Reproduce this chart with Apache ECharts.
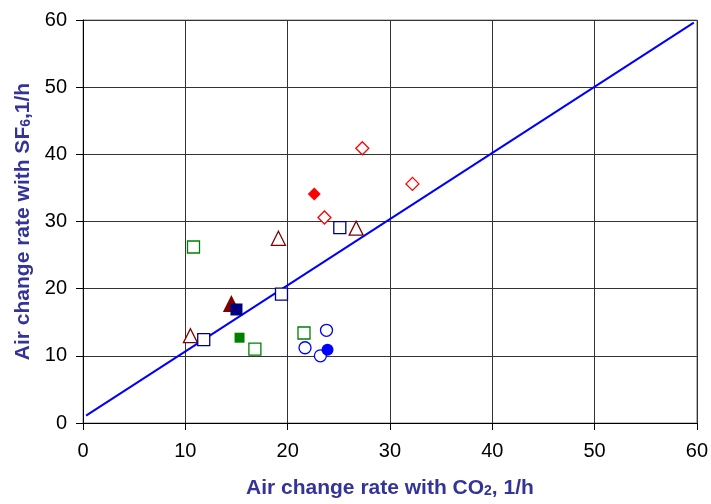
<!DOCTYPE html>
<html>
<head>
<meta charset="utf-8">
<script src="https://cdn.jsdelivr.net/npm/echarts@6/dist/echarts.min.js"></script>
<style>html,body{margin:0;padding:0;background:#fff}#c{width:711px;height:504px}</style>
</head>
<body>
<div id="c"></div>
<script>
// Data (x = CO2 air change rate, y = SF6 air change rate)
const redOpenDiamonds = [[27.3, 40.9], [32.2, 35.6], [23.6, 30.6]];
const redFilledDiamonds = [[22.6, 34.1]];
const brownOpenTriangles = [[19.1, 27.5], [26.7, 29.0], [10.5, 13.0]];
const brownFilledTriangles = [[14.5, 17.8]];
const navyOpenSquares = [[25.1, 29.1], [19.4, 19.2], [11.8, 12.4]];
const navyFilledSquares = [[15.0, 16.9]];
const greenOpenSquares = [[10.8, 26.2], [21.6, 13.4], [16.8, 11.0]];
const greenFilledSquares = [[15.3, 12.7]];
const blueOpenCircles = [[23.8, 13.8], [21.7, 11.2], [23.2, 10.0]];
const blueFilledCircles = [[23.9, 10.9]];
const refLine = [[0.3, 1.1], [59.7, 59.6]];
const axisTicks = [0, 10, 20, 30, 40, 50, 60];

const chart = echarts.init(document.getElementById('c'));
const font = 'Liberation Sans, Arial, sans-serif';

function sc(name, data, symbol, size, color, filled) {
  return {
    name, type: 'scatter', data, symbol, symbolSize: size,
    itemStyle: filled ? {color: color, borderWidth: 0, opacity: 1} : {color: '#fff', borderColor: color, borderWidth: 1.3, opacity: 1},
    z: 5
  };
}

const titleStyle = {
  color: '#333399', fontWeight: 'bold', fontSize: 21, fontFamily: font,
  rich: {s: {color: '#333399', fontWeight: 'bold', fontSize: 14, fontFamily: font, padding: [5, 0, 0, 0]}}
};

chart.setOption({
  animation: false,
  backgroundColor: '#fff',
  grid: {left: 83, right: 12, top: 20, bottom: 77, show: true, borderColor: '#888', borderWidth: 1},
  xAxis: {
    type: 'value', min: axisTicks[0], max: axisTicks[axisTicks.length - 1], interval: 10,
    name: 'Air change rate with CO{s|2}, 1/h',
    nameLocation: 'middle', nameGap: 55,
    nameTextStyle: titleStyle,
    axisLine: {show: true, lineStyle: {color: '#000', width: 1}},
    axisTick: {show: true, inside: false, length: 7, lineStyle: {color: '#000'}},
    axisLabel: {color: '#000', fontSize: 20, fontFamily: font, margin: 18},
    splitLine: {show: true, lineStyle: {color: '#333', width: 1}}
  },
  yAxis: {
    type: 'value', min: axisTicks[0], max: axisTicks[axisTicks.length - 1], interval: 10,
    name: 'Air change rate with SF{s|6},1/h',
    nameLocation: 'middle', nameGap: 49, nameRotate: 90,
    nameTextStyle: titleStyle,
    axisLine: {show: true, lineStyle: {color: '#000', width: 1}},
    axisTick: {show: true, inside: false, length: 7, lineStyle: {color: '#000'}},
    axisLabel: {color: '#000', fontSize: 20, fontFamily: font, margin: 16},
    splitLine: {show: true, lineStyle: {color: '#333', width: 1}}
  },
  series: [
    {type: 'line', data: refLine, symbol: 'none', lineStyle: {color: '#0000FF', width: 2}, z: 3},
    sc('rd', redOpenDiamonds, 'diamond', 13, '#FF0000', false),
    sc('rdf', redFilledDiamonds, 'diamond', 13, '#FF0000', true),
    sc('bt', brownOpenTriangles, 'triangle', 14, '#800000', false),
    sc('btf', brownFilledTriangles, 'triangle', 17, '#800000', true),
    sc('ns', navyOpenSquares, 'rect', 12, '#000080', false),
    sc('nsf', navyFilledSquares, 'rect', 12, '#000080', true),
    sc('gs', greenOpenSquares, 'rect', 12, '#008000', false),
    sc('gsf', greenFilledSquares, 'rect', 10, '#008000', true),
    sc('bc', blueOpenCircles, 'circle', 12, '#0000FF', false),
    sc('bcf', blueFilledCircles, 'circle', 12, '#0000FF', true)
  ]
});
</script>
</body>
</html>
